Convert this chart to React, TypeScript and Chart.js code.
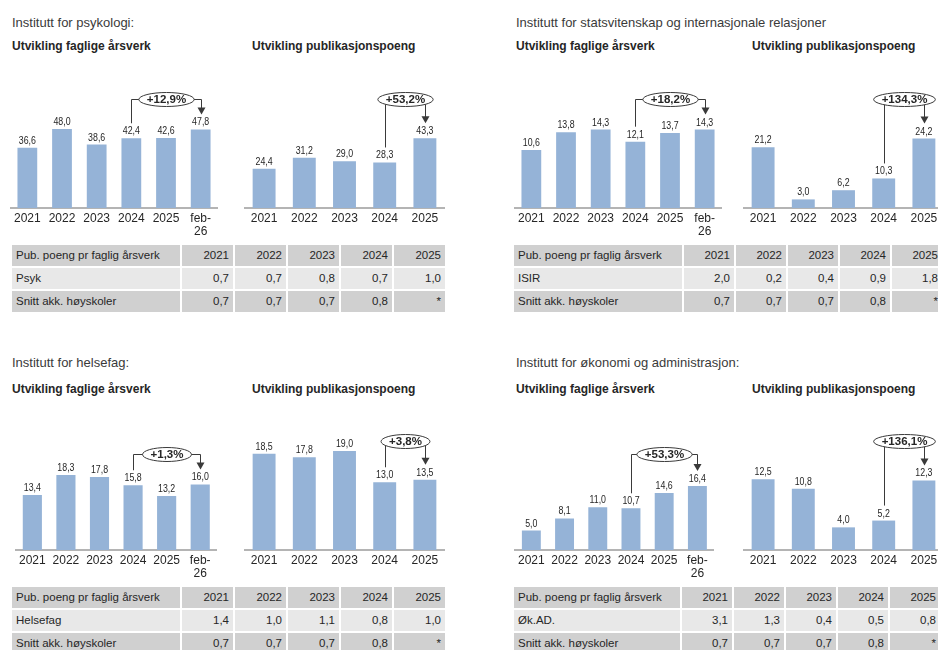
import React, { useEffect, useRef } from "react";
import { Chart, registerables } from "chart.js";
Chart.register(...registerables);

// ---------- DATA ----------
const fteCategories = ["2021", "2022", "2023", "2024", "2025", "feb-26"];
const pubCategories = ["2021", "2022", "2023", "2024", "2025"];
const tableYears = ["2021", "2022", "2023", "2024", "2025"];

const psykFte = [36.6, 48.0, 38.6, 42.4, 42.6, 47.8];
const psykPub = [24.4, 31.2, 29.0, 28.3, 43.3];
const psykRatio = [0.7, 0.7, 0.8, 0.7, 1.0];

const isirFte = [10.6, 13.8, 14.3, 12.1, 13.7, 14.3];
const isirPub = [21.2, 3.0, 6.2, 10.3, 24.2];
const isirRatio = [2.0, 0.2, 0.4, 0.9, 1.8];

const helseFte = [13.4, 18.3, 17.8, 15.8, 13.2, 16.0];
const helsePub = [18.5, 17.8, 19.0, 13.0, 13.5];
const helseRatio = [1.4, 1.0, 1.1, 0.8, 1.0];

const okadFte = [5.0, 8.1, 11.0, 10.7, 14.6, 16.4];
const okadPub = [12.5, 10.8, 4.0, 5.2, 12.3];
const okadRatio = [3.1, 1.3, 0.4, 0.5, 0.8];

const snittRatio: (number | null)[] = [0.7, 0.7, 0.7, 0.8, null];

const psykChanges = ["+12,9%", "+53,2%"];
const isirChanges = ["+18,2%", "+134,3%"];
const helseChanges = ["+1,3%", "+3,8%"];
const okadChanges = ["+53,3%", "+136,1%"];

// ---------- STYLE ----------
const FONT = "'Liberation Sans', Arial, Helvetica, sans-serif";
const BAR = "#95b3d7";
const TEXT = "#262626";
const LINE = "#3a3a3a";

const fmt = (v: number | null) => (v === null ? "*" : v.toFixed(1).replace(".", ","));

type BarProps = {
  left: number; top: number; width: number; plotH: number; axisH: number;
  labels: string[]; values: number[]; yMax: number; change: string;
  from: number; to: number; bracketOffset: number;
};

function BarChart(p: BarProps) {
  const ref = useRef<HTMLCanvasElement | null>(null);
  useEffect(() => {
    if (!ref.current) return;
    const labelPlugin = {
      id: "valueLabels",
      afterDatasetsDraw(chart: any) {
        const ctx = chart.ctx;
        const meta = chart.getDatasetMeta(0);
        meta.data.forEach((bar: any, i: number) => {
          const v = chart.data.datasets[0].data[i];
          ctx.save();
          ctx.font = `10.5px ${FONT}`;
          ctx.fillStyle = TEXT;
          ctx.textAlign = "center";
          ctx.textBaseline = "alphabetic";
          ctx.translate(bar.x, bar.y - 4);
          ctx.scale(0.84, 1);
          ctx.fillText(fmt(v), 0, 0);
          ctx.restore();
        });
      },
    };
    const bracketPlugin = {
      id: "bracket",
      afterDatasetsDraw(chart: any) {
        const ctx = chart.ctx;
        const meta = chart.getDatasetMeta(0);
        const s = meta.data[p.from];
        const e = meta.data[p.to];
        const xs = Math.round(s.x) + 0.5;
        const xe = Math.round(e.x) + 0.5;
        const yb = Math.round(chart.chartArea.top + p.bracketOffset) + 0.5;
        const ys = s.y - 15;
        const tip = e.y - 15;
        ctx.save();
        ctx.strokeStyle = LINE;
        ctx.fillStyle = LINE;
        ctx.lineWidth = 1;
        ctx.beginPath();
        ctx.moveTo(xs, ys);
        ctx.lineTo(xs, yb);
        ctx.lineTo(xe, yb);
        ctx.lineTo(xe, tip - 6);
        ctx.stroke();
        ctx.beginPath();
        ctx.moveTo(xe - 4, tip - 7);
        ctx.lineTo(xe + 4, tip - 7);
        ctx.lineTo(xe, tip);
        ctx.closePath();
        ctx.fill();
        ctx.font = `bold 11.5px ${FONT}`;
        const w = ctx.measureText(p.change).width;
        const cx = (xs + xe) / 2;
        ctx.beginPath();
        ctx.ellipse(cx, yb, w / 2 + 8, 7, 0, 0, Math.PI * 2);
        ctx.fillStyle = "#ffffff";
        ctx.fill();
        ctx.stroke();
        ctx.fillStyle = TEXT;
        ctx.textAlign = "center";
        ctx.textBaseline = "middle";
        ctx.fillText(p.change, cx, yb + 0.5);
        ctx.restore();
      },
    };
    const chart = new Chart(ref.current, {
      type: "bar",
      data: {
        labels: p.labels,
        datasets: [
          {
            data: p.values,
            backgroundColor: BAR,
            borderWidth: 0,
            barPercentage: 0.57,
            categoryPercentage: 1,
          },
        ],
      },
      options: {
        responsive: false,
        animation: false,
        layout: { padding: 0 },
        plugins: { legend: { display: false }, tooltip: { enabled: false } },
        scales: {
          x: {
            grid: { display: false, drawTicks: false },
            border: { display: true, color: "#b4b4b4", width: 2 },
            ticks: {
              color: TEXT,
              font: { family: FONT, size: 12, lineHeight: 1.1 },
              padding: 4,
              maxRotation: 0,
              autoSkip: false,
              callback: function (this: any, v: any) {
                const l = this.getLabelForValue(v);
                return l.startsWith("feb-") ? ["feb-", l.slice(4)] : l;
              },
            },
            afterFit: (scale: any) => {
              scale.height = p.axisH;
            },
          },
          y: { display: false, min: 0, max: p.yMax },
        },
      },
      plugins: [labelPlugin, bracketPlugin],
    } as any);
    return () => chart.destroy();
  }, []);
  return (
    <canvas
      ref={ref}
      width={p.width}
      height={p.plotH + p.axisH}
      style={{ position: "absolute", left: p.left, top: p.top, width: p.width, height: p.plotH + p.axisH }}
    />
  );
}

type TableProps = {
  left: number; top: number; labelW: number; colW: number;
  rowName: string; rowVals: number[]; snitt: (number | null)[];
};

function RatioTable(t: TableProps) {
  const rows: { label: string; vals: string[]; bg: string }[] = [
    { label: "Pub. poeng pr faglig årsverk", vals: tableYears, bg: "#d0d0d0" },
    { label: t.rowName, vals: t.rowVals.map(fmt), bg: "#e8e8e8" },
    { label: "Snitt akk. høyskoler", vals: t.snitt.map(fmt), bg: "#d0d0d0" },
  ];
  const cell: React.CSSProperties = {
    height: 21,
    lineHeight: "21px",
    fontFamily: FONT,
    fontSize: 11.5,
    color: TEXT,
    boxSizing: "border-box",
    whiteSpace: "nowrap",
    overflow: "hidden",
  };
  return (
    <div style={{ position: "absolute", left: t.left, top: t.top, display: "flex", flexDirection: "column", gap: 2 }}>
      {rows.map((r, ri) => (
        <div key={ri} style={{ display: "flex", gap: 2 }}>
          <div style={{ ...cell, width: t.labelW, background: r.bg, paddingLeft: 4 }}>{r.label}</div>
          {r.vals.map((v, ci) => (
            <div key={ci} style={{ ...cell, width: t.colW, background: r.bg, textAlign: "right", paddingRight: 4 }}>
              {v}
            </div>
          ))}
        </div>
      ))}
    </div>
  );
}

function Text({ x, y, text, bold, size }: { x: number; y: number; text: string; bold?: boolean; size: number }) {
  return (
    <div
      style={{
        position: "absolute",
        left: x,
        top: y,
        fontFamily: FONT,
        fontSize: size,
        lineHeight: "16px",
        fontWeight: bold ? "bold" : "normal",
        color: bold ? TEXT : "#3a3a3a",
        whiteSpace: "nowrap",
      }}
    >
      {text}
    </div>
  );
}

export default function App() {
  return (
    <div style={{ position: "absolute", left: 0, top: 0, width: 938, height: 650, overflow: "hidden", background: "#fff" }}>
      {/* Top-left */}
      <Text x={12} y={15} size={13} text="Institutt for psykologi:" />
      <Text x={12} y={38} size={12} bold text="Utvikling faglige årsverk" />
      <Text x={252} y={38} size={12} bold text="Utvikling publikasjonspoeng" />
      <BarChart left={10} top={60} width={208} plotH={148} axisH={34} labels={fteCategories} values={psykFte} yMax={90} change={psykChanges[0]} from={3} to={5} bracketOffset={39} />
      <BarChart left={244} top={60} width={201} plotH={148} axisH={34} labels={pubCategories} values={psykPub} yMax={92} change={psykChanges[1]} from={3} to={4} bracketOffset={39} />
      <RatioTable left={12} top={245} labelW={168} colW={51} rowName="Psyk" rowVals={psykRatio} snitt={snittRatio} />

      {/* Top-right */}
      <Text x={516} y={15} size={13} text="Institutt for statsvitenskap og internasjonale relasjoner" />
      <Text x={516} y={38} size={12} bold text="Utvikling faglige årsverk" />
      <Text x={752} y={38} size={12} bold text="Utvikling publikasjonspoeng" />
      <BarChart left={514} top={60} width={208} plotH={148} axisH={34} labels={fteCategories} values={isirFte} yMax={27} change={isirChanges[0]} from={3} to={5} bracketOffset={39} />
      <BarChart left={743} top={60} width={201} plotH={148} axisH={34} labels={pubCategories} values={isirPub} yMax={51.6} change={isirChanges[1]} from={3} to={4} bracketOffset={39} />
      <RatioTable left={514} top={245} labelW={168} colW={50} rowName="ISIR" rowVals={isirRatio} snitt={snittRatio} />

      {/* Bottom-left */}
      <Text x={12} y={355} size={13} text="Institutt for helsefag:" />
      <Text x={12} y={381} size={12} bold text="Utvikling faglige årsverk" />
      <Text x={252} y={381} size={12} bold text="Utvikling publikasjonspoeng" />
      <BarChart left={15} top={400} width={202} plotH={150} axisH={34} labels={fteCategories} values={helseFte} yMax={36.6} change={helseChanges[0]} from={3} to={5} bracketOffset={54} />
      <BarChart left={244} top={400} width={201} plotH={150} axisH={34} labels={pubCategories} values={helsePub} yMax={28.8} change={helseChanges[1]} from={3} to={4} bracketOffset={41} />
      <RatioTable left={12} top={587} labelW={168} colW={51} rowName="Helsefag" rowVals={helseRatio} snitt={snittRatio} />

      {/* Bottom-right */}
      <Text x={516} y={355} size={13} text="Institutt for økonomi og administrasjon:" />
      <Text x={516} y={381} size={12} bold text="Utvikling faglige årsverk" />
      <Text x={752} y={381} size={12} bold text="Utvikling publikasjonspoeng" />
      <BarChart left={514} top={400} width={200} plotH={150} axisH={34} labels={fteCategories} values={okadFte} yMax={38.5} change={okadChanges[0]} from={3} to={5} bracketOffset={54} />
      <BarChart left={743} top={400} width={201} plotH={150} axisH={34} labels={pubCategories} values={okadPub} yMax={26.5} change={okadChanges[1]} from={3} to={4} bracketOffset={41} />
      <RatioTable left={514} top={587} labelW={166} colW={50} rowName="Øk.AD." rowVals={okadRatio} snitt={snittRatio} />
    </div>
  );
}
